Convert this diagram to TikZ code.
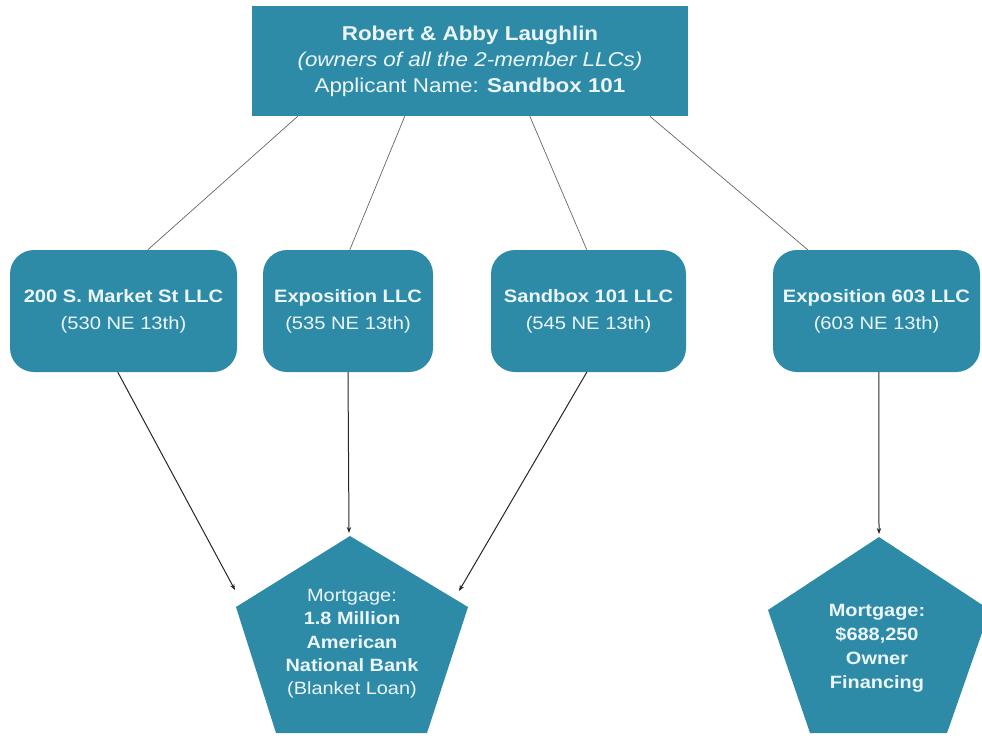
\documentclass[tikz,border=0pt]{standalone}
\usepackage{fontspec}
\setmainfont{Liberation Sans}[FakeStretch=1.12]
\usetikzlibrary{arrows.meta}
\definecolor{boxblue}{RGB}{46,139,168}
\definecolor{txtc}{RGB}{236,246,249}
\begin{document}
\begin{tikzpicture}[x=1pt,y=-1pt,
  topbox/.style={fill=boxblue, minimum width=436pt, minimum height=110pt, inner sep=0pt,
    text=txtc, align=center, font=\fontsize{20}{26}\selectfont},
  llcbox/.style={fill=boxblue, rounded corners=24pt, minimum height=122pt, inner sep=0pt,
    text=txtc, align=center, font=\fontsize{18}{27}\selectfont},
  thinline/.style={draw=black!60, line width=0.7pt},
  arrowline/.style={draw=black!85, line width=1pt, -{Stealth[length=6pt,width=4.5pt]}},
  pentfill/.style={fill=boxblue},
  penttext/.style={text=txtc, align=center, inner sep=0pt}]
\useasboundingbox (0,0) rectangle (982,742);

% top box
\node[topbox] (top) at (470,61) {\textbf{Robert \& Abby Laughlin}\\\textit{(owners of all the 2-member LLCs)}\\Applicant Name: \textbf{Sandbox 101}};

% LLC boxes
\node[llcbox, minimum width=227pt] (l1) at (123.5,311) {\textbf{200 S. Market St LLC}\\(530 NE 13th)};
\node[llcbox, minimum width=170pt] (l2) at (348,311) {\textbf{Exposition LLC}\\(535 NE 13th)};
\node[llcbox, minimum width=195pt] (l3) at (588.5,311) {\textbf{Sandbox 101 LLC}\\(545 NE 13th)};
\node[llcbox, minimum width=207pt] (l4) at (876.5,311) {\textbf{Exposition 603 LLC}\\(603 NE 13th)};

% pentagons
\fill[pentfill] (350,536) -- (468,607) -- (427,733) -- (276,733) -- (236,607) -- cycle;
\fill[pentfill] (879,537) -- (990,610) -- (947,733) -- (810,733) -- (768,610) -- cycle;
\node[penttext, font=\fontsize{17.8}{23.3}\selectfont] (m1) at (352,644)
  {Mortgage:\\\textbf{1.8 Million}\\\textbf{American}\\\textbf{National Bank}\\(Blanket Loan)};
\node[penttext, font=\fontsize{17.8}{24}\selectfont] (m2) at (877,648)
  {\textbf{Mortgage:}\\\textbf{\$688,250}\\\textbf{Owner}\\\textbf{Financing}};

\coordinate (m1l) at (235,590);
\coordinate (m1t) at (349,533);
\coordinate (m1r) at (459,591);
\coordinate (m2t) at (879,534);

% lines from top box
\draw[thinline] ([xshift=46pt]top.south west) -- ([xshift=138pt]l1.north west);
\draw[thinline] ([xshift=153pt]top.south west) -- ([xshift=87pt]l2.north west);
\draw[thinline] ([xshift=278pt]top.south west) -- ([xshift=96pt]l3.north west);
\draw[thinline] ([xshift=398pt]top.south west) -- ([xshift=35pt]l4.north west);

% arrows to mortgages
\draw[arrowline] ([xshift=108pt]l1.south west) -- (m1l);
\draw[arrowline] (l2.south) -- (m1t);
\draw[arrowline] ([xshift=96pt]l3.south west) -- (m1r);
\draw[arrowline] ([xshift=106pt]l4.south west) -- (m2t);
\end{tikzpicture}
\end{document}
